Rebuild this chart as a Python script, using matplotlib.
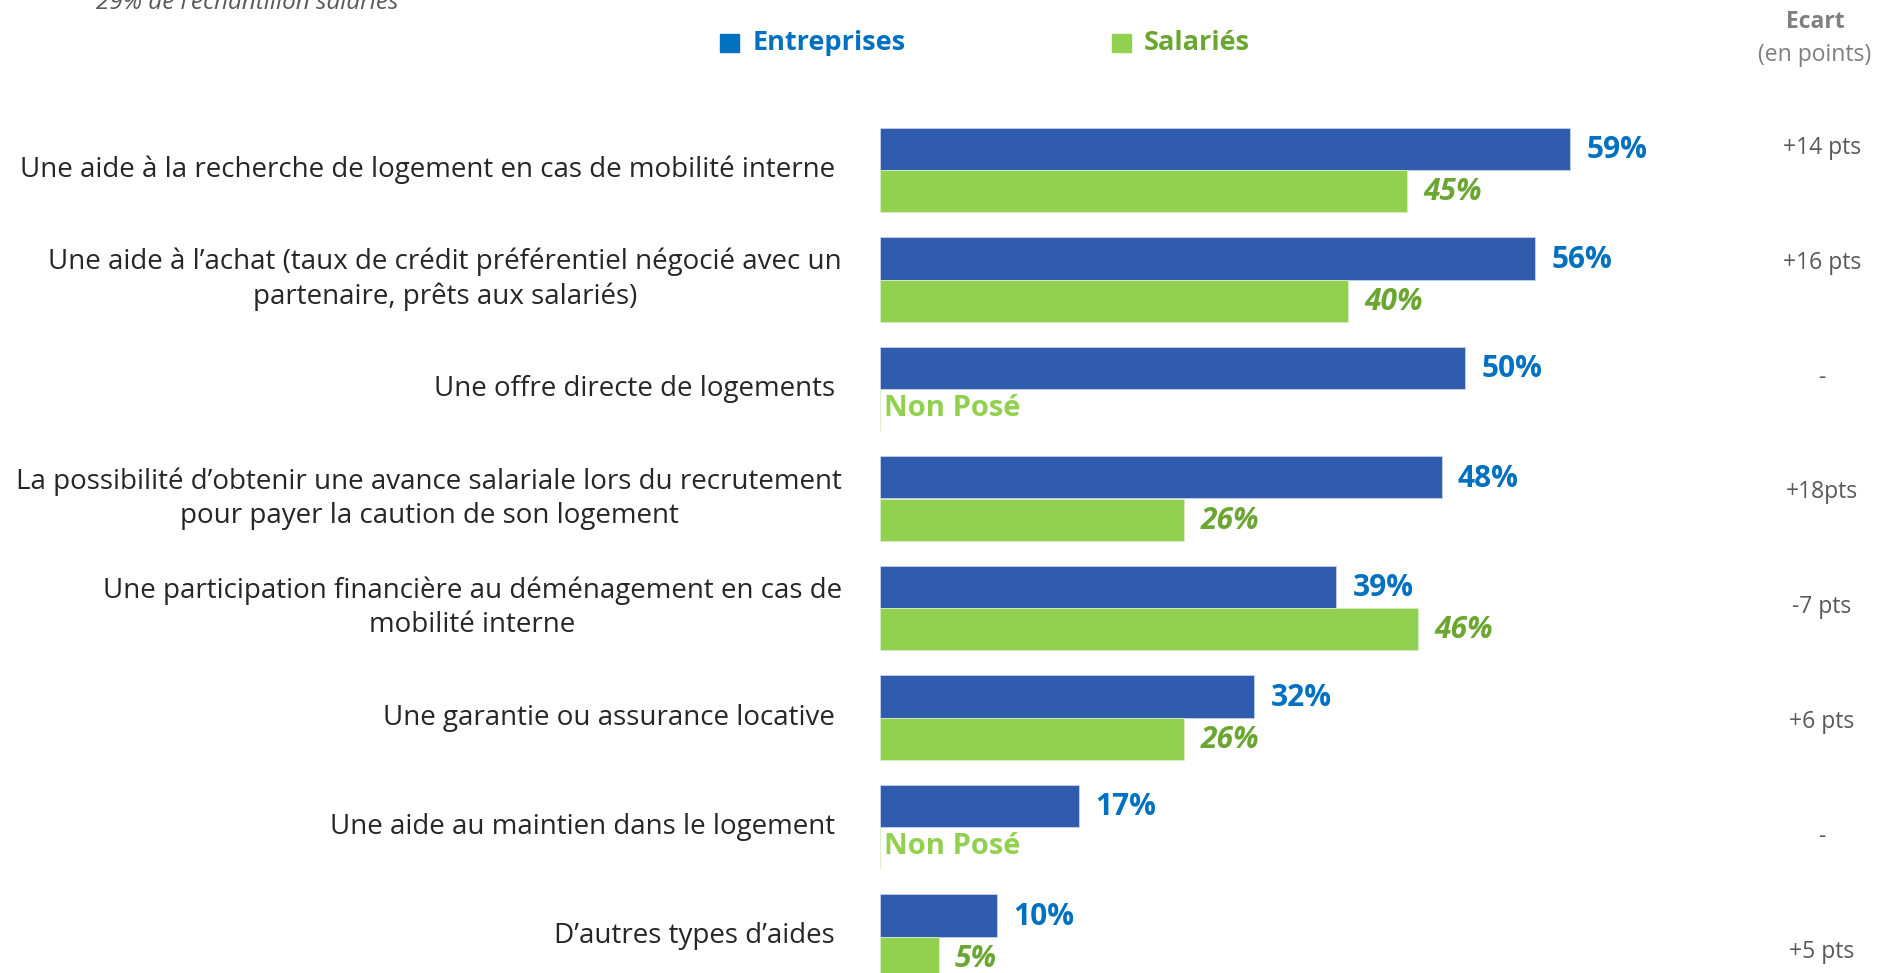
import numpy as np
import matplotlib.pyplot as plt

plt.rcParams['font.family'] = ['Open Sans', 'DejaVu Sans']

categories = [
    "Une aide à la recherche de logement en cas de mobilité interne ",
    "Une aide à l’achat (taux de crédit préférentiel négocié avec un\npartenaire, prêts aux salariés)",
    "Une offre directe de logements ",
    "La possibilité d’obtenir une avance salariale lors du recrutement\npour payer la caution de son logement",
    "Une participation financière au déménagement en cas de\nmobilité interne",
    "Une garantie ou assurance locative ",
    "Une aide au maintien dans le logement ",
    "D’autres types d’aides ",
]
entreprises = [59, 56, 50, 48, 39, 32, 17, 10]
salaries = [45, 40, None, 26, 46, 26, None, 5]
ecart = ["+14 pts", "+16 pts", "-", "+18pts", "-7 pts", "+6 pts", "-", "+5 pts"]

BLUE_BAR = "#305CAD"
BLUE_TXT = "#0070C0"
GREEN_BAR = "#92D050"
GREEN_TXT = "#6AA631"
GRAY = "#595959"

W, H = 1877, 973
fig = plt.figure(figsize=(W / 100, H / 100), dpi=100)

# axes: bar origin at x=880px, 11.7 px per percent; rows 109.5 px apart, first at y=170px
x0, ppp = 880, 11.7
ax = fig.add_axes([x0 / W, 0, 900 / W, 1])
ax.set_xlim(0, 900 / ppp)
row0, step = 170, 109.5
ax.set_ylim((H - row0) / step, -row0 / step)
ax.axis('off')

y = np.arange(len(categories))
h = 0.385
ax.barh(y - h / 2, entreprises, height=h, color=BLUE_BAR, edgecolor='#c8d2e8', linewidth=0.6)
sal_vals = [v if v is not None else 0 for v in salaries]
ax.barh(y + h / 2, sal_vals, height=h, color=GREEN_BAR, edgecolor='#d8ecc4', linewidth=0.6)

for i, v in enumerate(entreprises):
    ax.text(v + 1.4, i - h / 2 + 0.01, f"{v}%", color=BLUE_TXT, fontsize=21.5,
            fontweight='bold', va='center', ha='left')
for i, v in enumerate(salaries):
    if v is None:
        ax.text(0.35, i + 0.18, "Non Posé", color=GREEN_BAR, fontsize=21,
                fontweight='bold', va='center', ha='left')
    else:
        ax.text(v + 1.4, i + h / 2 + 0.01, f"{v}%", color=GREEN_TXT, fontsize=21.5,
                fontweight='bold', fontstyle='italic', va='center', ha='left')

for i, lab in enumerate(categories):
    ax.text(-38 / ppp, i, lab, ha='right', va='center', multialignment='center',
            fontsize=20, color='#262626', linespacing=1.3)

# ecart column
fig.text(1815 / W, 1 - 22 / H, "Ecart", ha='center', va='center', fontsize=16.5,
         fontweight='bold', color='#7F7F7F')
fig.text(1815 / W, 1 - 55 / H, "(en points)", ha='center', va='center', fontsize=16.5,
         color='#7F7F7F')
for i, t in enumerate(ecart):
    fig.text(1822 / W, 1 - (148 + 114.8 * i) / H, t, ha='center', va='center',
             fontsize=16.5, color=GRAY)

# legend
fig.patches.append(plt.Rectangle((720 / W, 1 - 52 / H), 19 / W, 18 / H,
                                 transform=fig.transFigure, color=BLUE_TXT))
fig.text(753 / W, 1 - 43 / H, "Entreprises", ha='left', va='center', fontsize=19.5,
         fontweight='bold', color=BLUE_TXT)
fig.patches.append(plt.Rectangle((1112 / W, 1 - 52 / H), 19 / W, 18 / H,
                                 transform=fig.transFigure, color=GREEN_BAR))
fig.text(1144 / W, 1 - 43 / H, "Salariés", ha='left', va='center', fontsize=19.5,
         fontweight='bold', color=GREEN_TXT)

# note cut at top
fig.text(96 / W, 1 - 9 / H, "29% de l’échantillon salariés", ha='left', va='baseline',
         fontsize=17.5, fontstyle='italic', color='#595959')

fig.savefig("out.png", dpi=100)
